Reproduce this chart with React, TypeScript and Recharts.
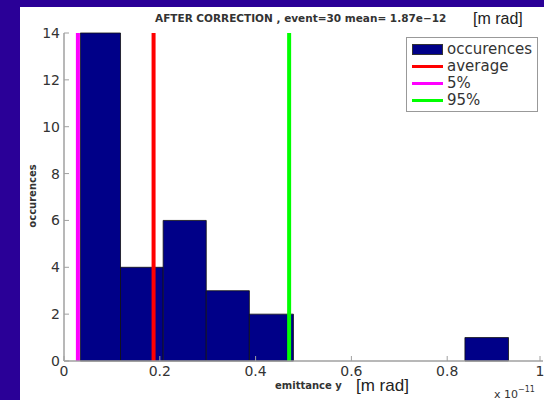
import React from "react";
import {
  ComposedChart,
  XAxis,
  YAxis,
  ReferenceArea,
  ReferenceLine,
} from "recharts";

// histogram of emittance y (units of 1e-11 m rad), 10 bins, 30 events
const binLo = [0.034, 0.118, 0.207, 0.297, 0.387, 0.479, 0.568, 0.658, 0.748, 0.837];
const binHi = [0.118, 0.207, 0.297, 0.387, 0.479, 0.568, 0.658, 0.748, 0.837, 0.928];
const counts = [14, 4, 6, 3, 2, 0, 0, 0, 0, 1];

const pct5 = 0.029;
const average = 0.187;
const pct95 = 0.47;

const xTicks = [0, 0.2, 0.4, 0.6, 0.8, 1];
const yTicks = [0, 2, 4, 6, 8, 10, 12, 14];

const legendItems = [
  { name: "occurences", color: "#000088", kind: "rect" },
  { name: "average", color: "#ff0000", kind: "line" },
  { name: "5%", color: "#ff00ff", kind: "line" },
  { name: "95%", color: "#00ff00", kind: "line" },
];

const data = counts.map((c, i) => ({ x: (binLo[i] + binHi[i]) / 2, y: c }));

const FONT = "'DejaVu Sans', sans-serif";
const ARIAL = "'Liberation Sans', Arial, sans-serif";
const AXIS = "#a0a0a0";

const fmt = (v: number) => String(v);

const BottomTick = (props: any) => {
  const { x, y, payload } = props;
  return (
    <g>
      <line x1={x} x2={x} y1={y} y2={y - 5} stroke={AXIS} />
      <text x={x} y={y + 15} textAnchor="middle" fontFamily={FONT} fontSize={14} fill="#333">
        {fmt(payload.value)}
      </text>
    </g>
  );
};

const LeftTick = (props: any) => {
  const { x, y, payload } = props;
  return (
    <g>
      <line x1={x} x2={x + 5} y1={y} y2={y} stroke={AXIS} />
      <text x={x - 4} y={y + 5} textAnchor="end" fontFamily={FONT} fontSize={14} fill="#333">
        {payload.value}
      </text>
    </g>
  );
};

const TopTick = (props: any) => {
  const { x, y } = props;
  return <line x1={x} x2={x} y1={y} y2={y + 5} stroke={AXIS} />;
};

const RightTick = (props: any) => {
  const { x, y } = props;
  return <line x1={x} x2={x - 5} y1={y} y2={y} stroke={AXIS} />;
};

const LegendBox = () => (
  <div
    style={{
      position: "absolute",
      left: 406,
      top: 37,
      width: 132,
      boxSizing: "border-box",
      border: "1px solid #999",
      background: "#fff",
      padding: "3px 4px 2px 5px",
      fontFamily: FONT,
      fontSize: 15,
      color: "#333",
      lineHeight: "17px",
    }}
  >
    {legendItems.map((it) => (
      <div key={it.name} style={{ display: "flex", alignItems: "center" }}>
        <div style={{ width: 31, marginRight: 4, display: "flex", alignItems: "center" }}>
          {it.kind === "rect" ? (
            <div style={{ width: 31, height: 11, background: it.color, border: "1px solid #333", boxSizing: "border-box" }} />
          ) : (
            <div style={{ width: 31, height: 3, background: it.color }} />
          )}
        </div>
        <span>{it.name}</span>
      </div>
    ))}
  </div>
);

export default function App() {
  return (
    <div
      style={{
        position: "absolute",
        left: 0,
        top: 0,
        width: 544,
        height: 400,
        background: "#2a0097",
        overflow: "hidden",
      }}
    >
      <div style={{ position: "absolute", left: 20, top: 7, width: 524, height: 393, background: "#fff" }} />
      <div style={{ position: "absolute", left: 0, top: 0 }}>
        <ComposedChart
          width={544}
          height={400}
          data={data}
          margin={{ top: 33, right: 1, bottom: 9, left: 34 }}
        >
          <XAxis
            dataKey="x"
            type="number"
            domain={[0, 1]}
            ticks={xTicks}
            height={30}
            tickSize={0}
            tickMargin={0}
            tick={<BottomTick />}
            axisLine={{ stroke: AXIS, strokeWidth: 1.5 }}
            allowDataOverflow
          />
          <XAxis
            xAxisId="top"
            orientation="top"
            type="number"
            domain={[0, 1]}
            ticks={xTicks}
            height={0}
            tickSize={0}
            tick={<TopTick />}
            axisLine={{ stroke: AXIS, strokeWidth: 1.5 }}
          />
          <YAxis
            type="number"
            domain={[0, 14]}
            ticks={yTicks}
            width={30}
            tickSize={0}
            tickMargin={0}
            tick={<LeftTick />}
            axisLine={{ stroke: AXIS, strokeWidth: 1.5 }}
            allowDataOverflow
          />
          <YAxis
            yAxisId="right"
            orientation="right"
            type="number"
            domain={[0, 14]}
            ticks={yTicks}
            width={0}
            tickSize={0}
            tick={<RightTick />}
            axisLine={{ stroke: AXIS, strokeWidth: 1.5 }}
          />
          {counts.map((c, i) =>
            c > 0 ? (
              <ReferenceArea
                key={i}
                x1={binLo[i]}
                x2={binHi[i]}
                y1={0}
                y2={c}
                fill="#000088"
                fillOpacity={1}
                stroke="#111"
                strokeOpacity={0.8}
                strokeWidth={1}
                ifOverflow="visible"
              />
            ) : null
          )}
          <ReferenceLine x={pct5} stroke="#ff00ff" strokeWidth={4} />
          <ReferenceLine x={average} stroke="#ff0000" strokeWidth={4} />
          <ReferenceLine x={pct95} stroke="#00ff00" strokeWidth={4} />
        </ComposedChart>
      </div>
      <LegendBox />
      <div
        style={{
          position: "absolute",
          left: 155,
          top: 12,
          fontFamily: FONT,
          fontSize: 10.5,
          fontWeight: "bold",
          color: "#333",
          whiteSpace: "nowrap",
        }}
      >
        AFTER CORRECTION , event=30 mean= 1.87e−12
      </div>
      <div
        style={{
          position: "absolute",
          left: 473,
          top: 10,
          fontFamily: ARIAL,
          fontSize: 16,
          color: "#222",
          whiteSpace: "nowrap",
        }}
      >
        [m rad]
      </div>
      <div
        style={{
          position: "absolute",
          left: 32,
          top: 196,
          transform: "translate(-50%, -50%) rotate(-90deg)",
          fontFamily: FONT,
          fontSize: 10,
          fontWeight: "bold",
          color: "#333",
          whiteSpace: "nowrap",
        }}
      >
        occurences
      </div>
      <div
        style={{
          position: "absolute",
          left: 275,
          top: 380,
          fontFamily: FONT,
          fontSize: 10,
          fontWeight: "bold",
          color: "#333",
          whiteSpace: "nowrap",
        }}
      >
        emittance y
      </div>
      <div
        style={{
          position: "absolute",
          left: 356,
          top: 376,
          fontFamily: ARIAL,
          fontSize: 17,
          color: "#222",
          whiteSpace: "nowrap",
        }}
      >
        [m rad]
      </div>
      <div
        style={{
          position: "absolute",
          left: 494,
          top: 385,
          fontFamily: FONT,
          fontSize: 11,
          color: "#333",
          whiteSpace: "nowrap",
        }}
      >
        x 10<sup style={{ fontSize: 8, verticalAlign: "6px" }}>−11</sup>
      </div>
    </div>
  );
}
